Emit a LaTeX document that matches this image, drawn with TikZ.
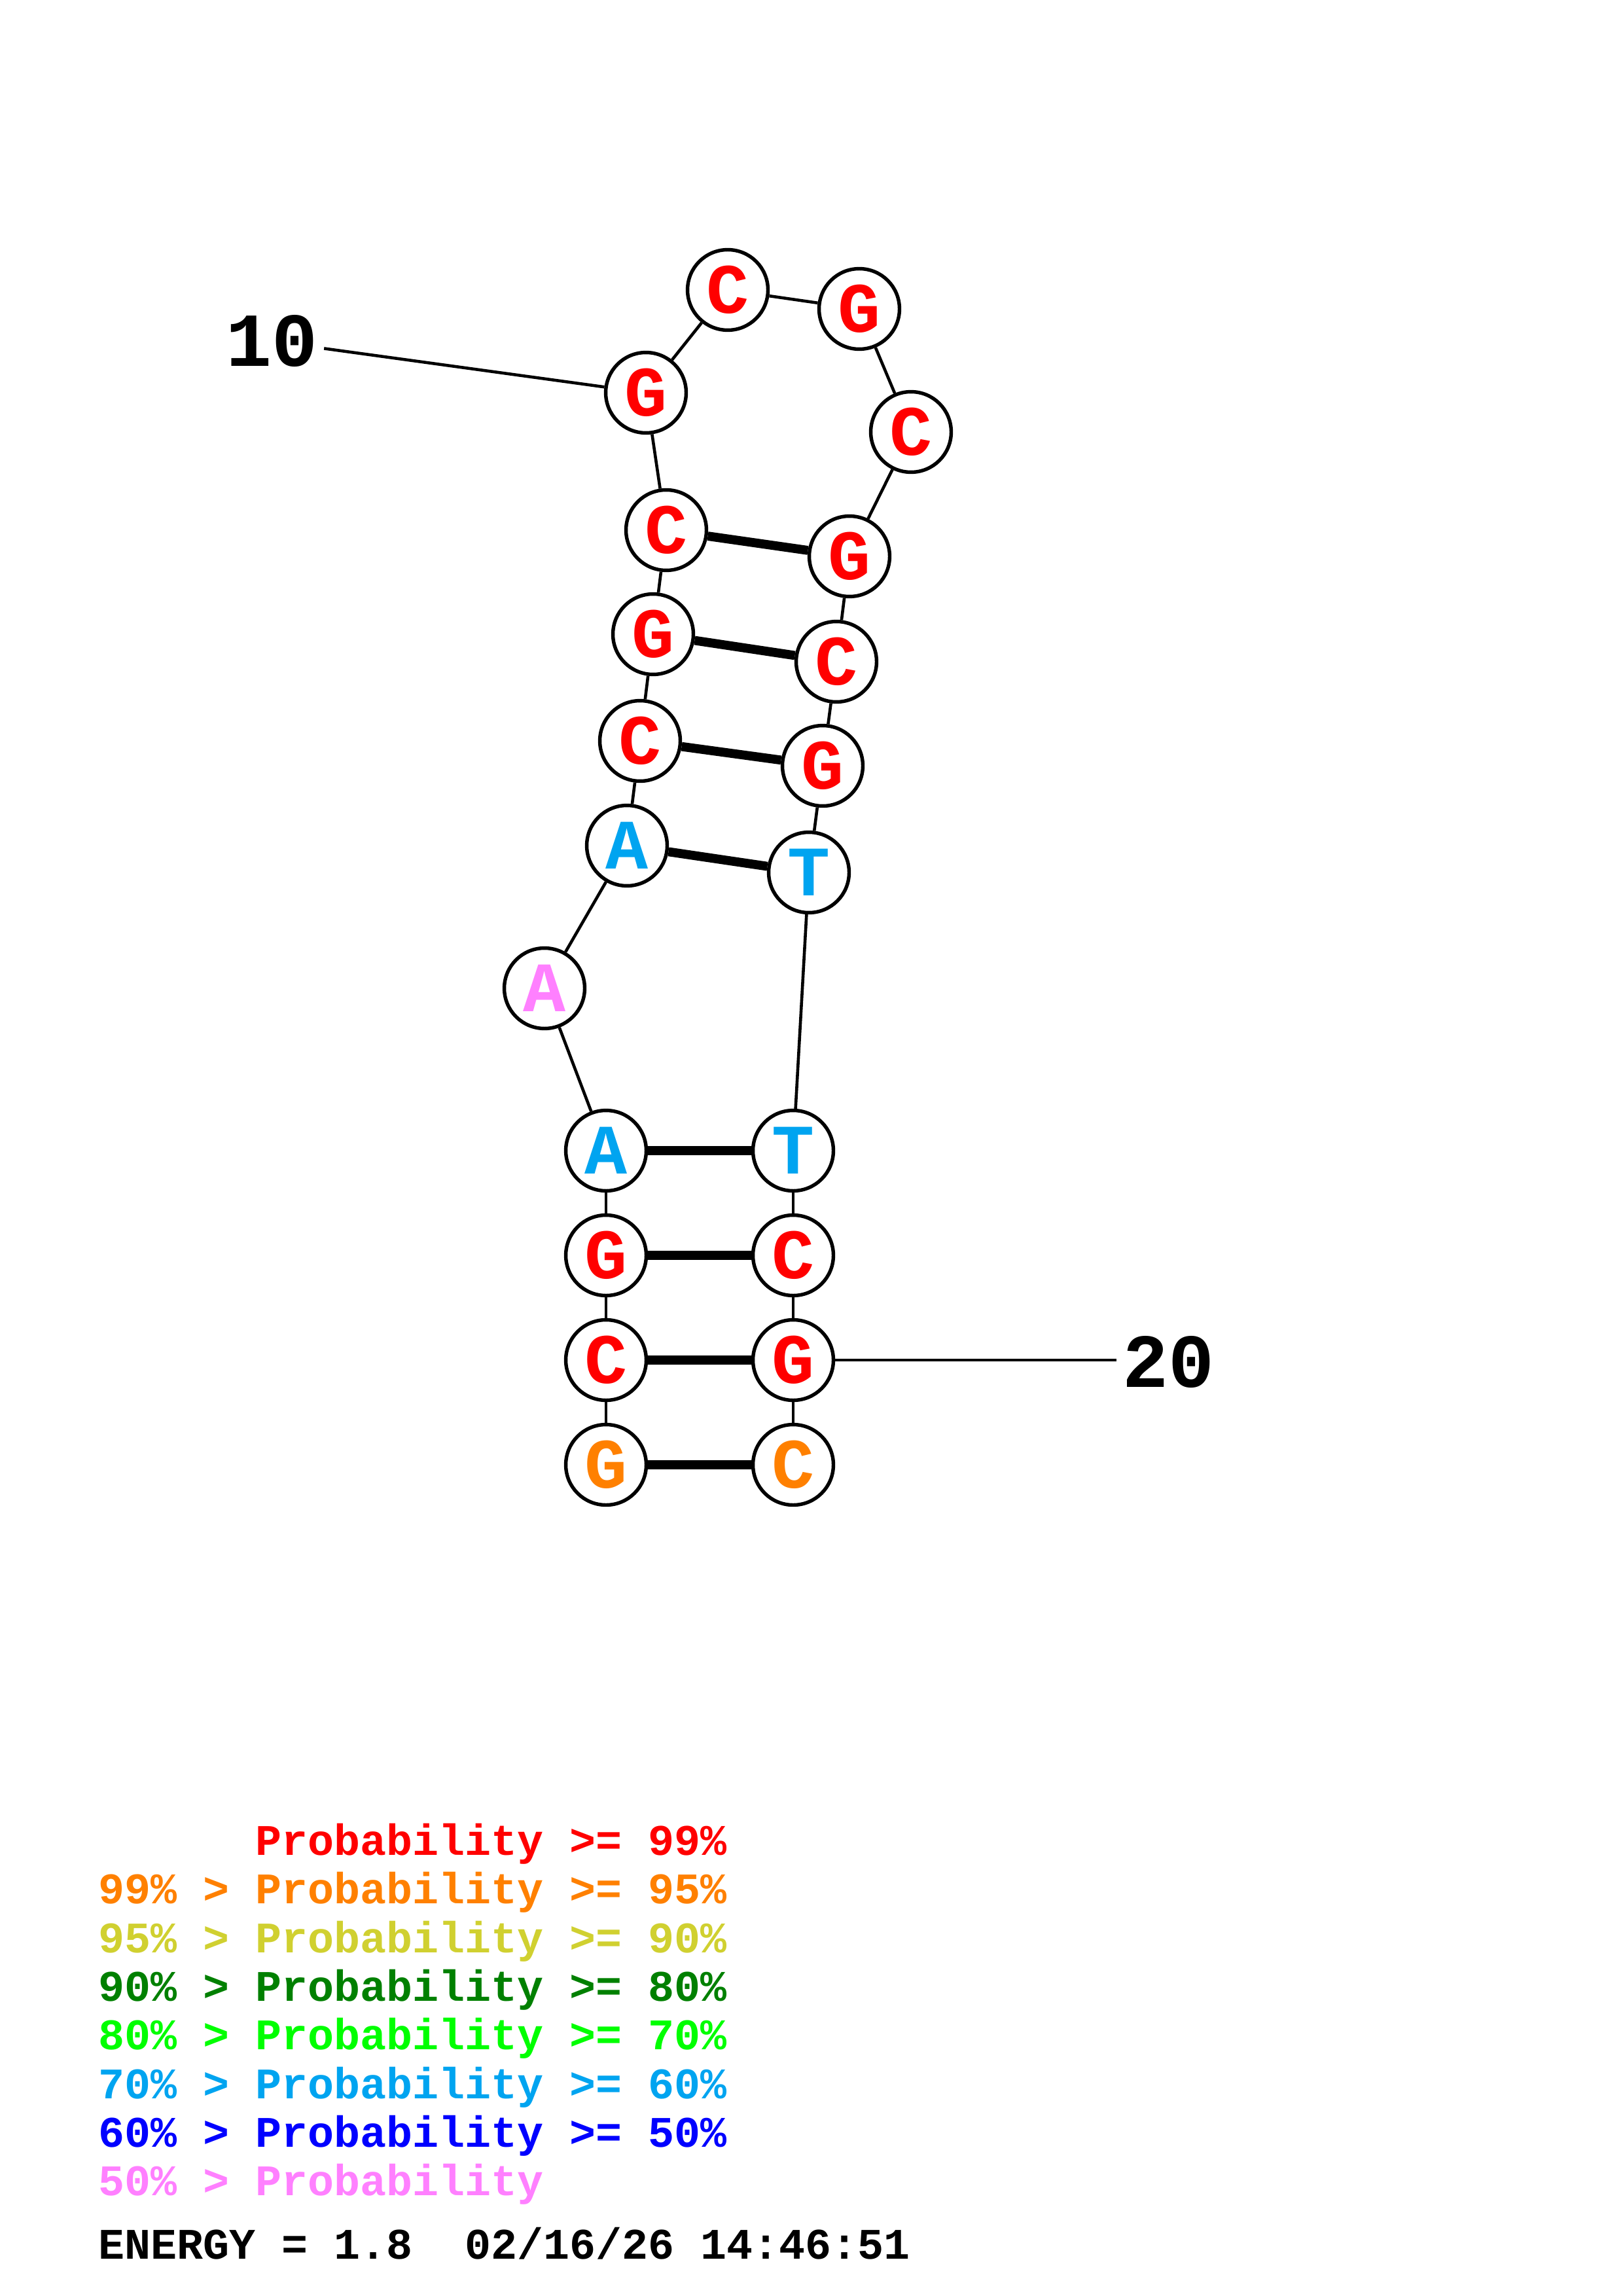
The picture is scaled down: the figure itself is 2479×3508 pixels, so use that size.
\documentclass[tikz,border=0pt]{standalone}
\usepackage{fontspec}
\newfontfamily\monofont{Liberation Mono}
\definecolor{pred}{RGB}{255,0,0}
\definecolor{porange}{RGB}{255,128,0}
\definecolor{polive}{RGB}{208,208,48}
\definecolor{pdkgreen}{RGB}{0,128,0}
\definecolor{pgreen}{RGB}{0,255,0}
\definecolor{psky}{RGB}{0,164,240}
\definecolor{pblue}{RGB}{0,0,255}
\definecolor{ppink}{RGB}{255,128,255}
\tikzset{
  base/.style={circle, draw, fill=white, line width=1.3pt, minimum size=29.5pt, inner sep=0pt,
    font=\monofont\bfseries\fontsize{26}{26}\selectfont},
  pair/.style={line width=3.3pt},
  bb/.style={line width=1.1pt},
  num/.style={inner sep=2pt, font=\monofont\bfseries\fontsize{28}{28}\selectfont},
  legend/.style={anchor=base west, inner sep=0pt, font=\monofont\bfseries\fontsize{16}{16}\selectfont}
}
\begin{document}
\begin{tikzpicture}[x=0.24pt, y=-0.24pt]
			\useasboundingbox (0,0) rectangle (2479,3508);
			% left strand
			\node[base, text=porange] (1) at (926,2238) {G};
			\node[base, text=pred] (2) at (926,2078) {C};
			\node[base, text=pred] (3) at (926,1918) {G};
			\node[base, text=psky] (4) at (926,1758) {A};
			\node[base, text=ppink] (5) at (832,1510) {A};
			\node[base, text=psky] (6) at (958,1292) {A};
			\node[base, text=pred] (7) at (978,1132) {C};
			\node[base, text=pred] (8) at (998,969) {G};
			\node[base, text=pred] (9) at (1018,810) {C};
			\node[base, text=pred] (10) at (987,600) {G};
			% hairpin loop
			\node[base, text=pred] (11) at (1112,443) {C};
			\node[base, text=pred] (12) at (1313,472) {G};
			\node[base, text=pred] (13) at (1392,660) {C};
			% right strand
			\node[base, text=pred] (14) at (1298,850) {G};
			\node[base, text=pred] (15) at (1278,1011) {C};
			\node[base, text=pred] (16) at (1257,1170) {G};
			\node[base, text=psky] (17) at (1236,1333) {T};
			\node[base, text=psky] (18) at (1212,1758) {T};
			\node[base, text=pred] (19) at (1212,1918) {C};
			\node[base, text=pred] (20) at (1212,2078) {G};
			\node[base, text=porange] (21) at (1212,2238) {C};
			%
			\draw[bb] (1) -- (2);
			\draw[bb] (2) -- (3);
			\draw[bb] (3) -- (4);
			\draw[bb] (4) -- (5);
			\draw[bb] (5) -- (6);
			\draw[bb] (6) -- (7);
			\draw[bb] (7) -- (8);
			\draw[bb] (8) -- (9);
			\draw[bb] (9) -- (10);
			\draw[bb] (10) -- (11);
			\draw[bb] (11) -- (12);
			\draw[bb] (12) -- (13);
			\draw[bb] (13) -- (14);
			\draw[bb] (14) -- (15);
			\draw[bb] (15) -- (16);
			\draw[bb] (16) -- (17);
			\draw[bb] (17) -- (18);
			\draw[bb] (18) -- (19);
			\draw[bb] (19) -- (20);
			\draw[bb] (20) -- (21);
			%
			\draw[pair] (1) -- (21);
			\draw[pair] (2) -- (20);
			\draw[pair] (3) -- (19);
			\draw[pair] (4) -- (18);
			\draw[pair] (6) -- (17);
			\draw[pair] (7) -- (16);
			\draw[pair] (8) -- (15);
			\draw[pair] (9) -- (14);
			% position numbers
			\node[num, anchor=base] (num10) at (416,560) {10};
			\node[num, anchor=base] (num20) at (1785,2119) {20};
			\draw[bb] (num10) -- (10);
			\draw[bb] (20) -- (20 -| num20.west);
			% legend
			\node[legend, text=pred] (p99) at (390,2834) {Probability >= 99\%};
			\node[legend, text=porange] (p95) at (150,2908) {99\% > Probability >= 95\%};
			\node[legend, text=polive] (p90) at (150,2983) {95\% > Probability >= 90\%};
			\node[legend, text=pdkgreen] (p80) at (150,3057) {90\% > Probability >= 80\%};
			\node[legend, text=pgreen] (p70) at (150,3131) {80\% > Probability >= 70\%};
			\node[legend, text=psky] (p60) at (150,3206) {70\% > Probability >= 60\%};
			\node[legend, text=pblue] (p50) at (150,3280) {60\% > Probability >= 50\%};
			\node[legend, text=ppink] (p0) at (150,3354) {50\% > Probability};
			\node[legend] (energy) at (150,3451) {ENERGY = 1.8\ \ 02/16/26 14:46:51};
		\end{tikzpicture}
\end{document}
